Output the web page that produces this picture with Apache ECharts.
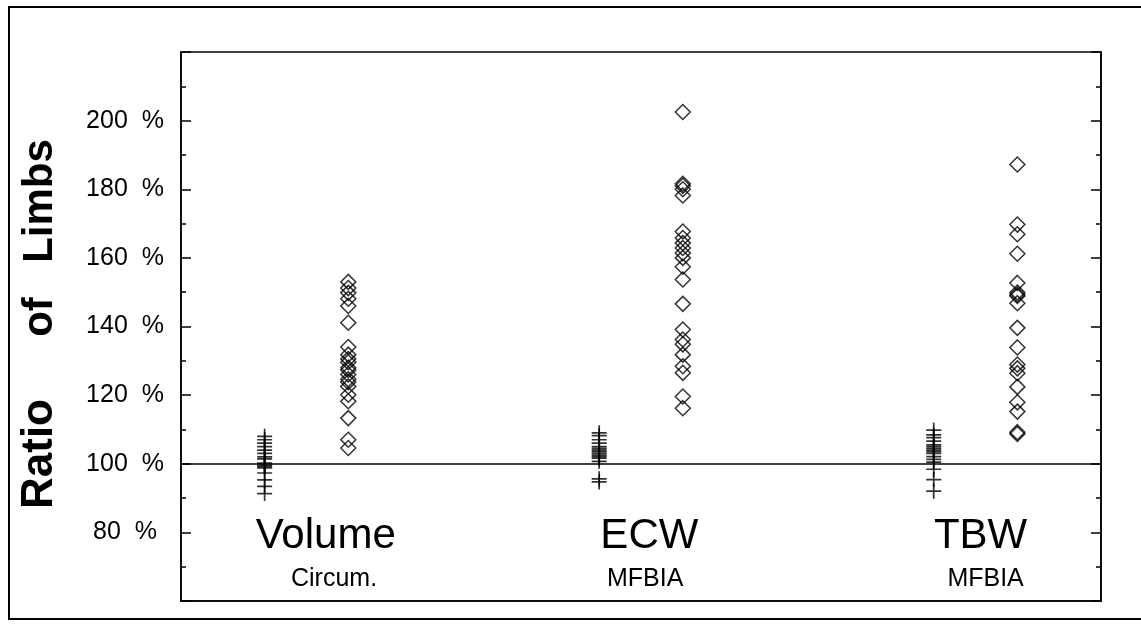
<!DOCTYPE html>
<html>
<head>
<meta charset="utf-8">
<script src="https://cdn.jsdelivr.net/npm/echarts@6/dist/echarts.min.js"></script>
<style>
html,body{margin:0;padding:0;background:#fff;}
#chart{width:1141px;height:626px;}
</style>
</head>
<body>
<div id="chart"></div>
<script>
// ---- data ----
const groupNames = ['Volume', 'ECW', 'TBW'];
const methodNames = ['Circum.', 'MFBIA', 'MFBIA'];
const yTickValues = [80, 100, 120, 140, 160, 180, 200];

// reference side (crosses), values in %
const volumeRef = [108, 107, 106, 105, 104, 103, 102, 101.4, 100.2, 99.6, 99.2, 98.8, 97.3, 95.3, 93.4, 91.3];
const ecwRef    = [109, 108.2, 107, 106, 105, 104.5, 104, 103.5, 103, 102.5, 102, 101.6, 100.7, 95.6, 94.7];
const tbwRef    = [109.8, 108.4, 107.6, 106.6, 105.5, 105, 104.5, 104, 103.5, 103, 102.1, 101.3, 100.5, 98.4, 95.4, 92];

// affected side ratios (diamonds), values in %
const volumeRatio = [153, 151.2, 149.8, 148.1, 146, 141.1, 134, 131.8, 130.5, 129.6, 128, 127.3, 126, 124.6, 123.8, 122.5, 120.1, 118.2, 113.3, 107, 104.6];
const ecwRatio    = [202.5, 181.6, 181, 180, 178.2, 167.7, 165.8, 164.3, 162.9, 161.4, 160, 157.4, 153.7, 146.6, 139.1, 136.2, 134.8, 131.8, 128.4, 126.5, 119.6, 116.2];
const tbwRatio    = [187.2, 169.7, 166.9, 161.2, 152.7, 149.9, 149.3, 148.9, 146.8, 139.6, 133.9, 128.9, 127.8, 126.4, 122.4, 117.9, 115.2, 109.2, 108.7];

// ---- build ----
const refSets = [volumeRef, ecwRef, tbwRef];
const ratioSets = [volumeRatio, ecwRatio, tbwRatio];
const refX = [1, 5, 9];
const ratioX = [2, 6, 10];
const nameAnchor = [[1.73, 78.8], [5.6, 78.8], [9.56, 78.8]];
const subAnchor = [[1.83, 66.3], [5.55, 66.3], [9.62, 66.3]];

const FONT = 'Liberation Sans, Arial, Helvetica, sans-serif';
const plusPath = 'path://M0,50L100,50M50,0L50,100';

const crossData = [];
refSets.forEach((arr, i) => arr.forEach(v => crossData.push([refX[i], v])));
const diamondData = [];
ratioSets.forEach((arr, i) => arr.forEach(v => diamondData.push([ratioX[i], v])));

const yAxisBase = {
  type: 'value', min: 60, max: 220, interval: 20,
  axisLine: {show: true, lineStyle: {color: '#000', width: 1.5}},
  axisTick: {show: true, inside: true, length: 10, lineStyle: {color: '#000', width: 1.5}},
  minorTick: {show: true, splitNumber: 2, length: 5, lineStyle: {color: '#000', width: 1.5}},
  splitLine: {show: false}
};

const textLabel = size => ({
  show: true, position: 'inside', formatter: p => p.name,
  color: '#000', opacity: 1, textBorderWidth: 0, fontSize: size, fontFamily: FONT
});

const chart = echarts.init(document.getElementById('chart'), null, {renderer: 'canvas'});
chart.setOption({
  animation: false,
  backgroundColor: '#fff',
  grid: {left: 181, right: 40, top: 52, bottom: 25, show: true, borderColor: '#000', borderWidth: 1.5},
  xAxis: {
    type: 'value', min: 0, max: 11,
    axisLine: {show: true, lineStyle: {color: '#000', width: 1.5}},
    axisTick: {show: false}, axisLabel: {show: false}, splitLine: {show: false}
  },
  yAxis: [
    Object.assign({}, yAxisBase, {
      position: 'left',
      axisLabel: {
        show: true, margin: 56, align: 'center', color: '#000', fontSize: 25, fontFamily: FONT,
        formatter: v => (yTickValues.indexOf(v) >= 0 ? v + '  %' : '')
      }
    }),
    Object.assign({}, yAxisBase, {position: 'right', axisLabel: {show: false}})
  ],
  series: [
    {
      type: 'scatter', name: 'ref', data: crossData,
      symbol: plusPath, symbolSize: 15,
      itemStyle: {color: 'rgba(0,0,0,0)', borderColor: '#000', borderWidth: 1.7},
      emphasis: {disabled: true},
      markLine: {
        silent: true, symbol: 'none', label: {show: false},
        lineStyle: {color: '#000', width: 1.5, type: 'solid'},
        data: [{yAxis: 100}]
      }
    },
    {
      type: 'scatter', name: 'ratio', data: diamondData,
      symbol: 'diamond', symbolSize: 15,
      itemStyle: {color: 'rgba(0,0,0,0)', borderColor: '#000', borderWidth: 1.5},
      emphasis: {disabled: true}
    },
    {
      type: 'scatter', name: 'groups', symbol: 'circle', symbolSize: 1, silent: true,
      itemStyle: {color: '#fff', opacity: 1},
      data: groupNames.map((n, i) => ({value: nameAnchor[i], name: n})),
      label: textLabel(42)
    },
    {
      type: 'scatter', name: 'methods', symbol: 'circle', symbolSize: 1, silent: true,
      itemStyle: {color: '#fff', opacity: 1},
      data: methodNames.map((n, i) => ({value: subAnchor[i], name: n})),
      label: textLabel(25)
    }
  ],
  graphic: [
    {type: 'rect', shape: {x: 9, y: 7, width: 1140, height: 612}, style: {fill: 'none', stroke: '#000', lineWidth: 2}, silent: true},
    {type: 'text', x: 40, y: 454, rotation: Math.PI / 2, style: {text: 'Ratio', fontSize: 44, fontWeight: 'bold', fontFamily: FONT, fill: '#000', textAlign: 'center', textVerticalAlign: 'middle'}},
    {type: 'text', x: 40, y: 317, rotation: Math.PI / 2, style: {text: 'of', fontSize: 42, fontWeight: 'bold', fontFamily: FONT, fill: '#000', textAlign: 'center', textVerticalAlign: 'middle'}},
    {type: 'text', x: 40, y: 201, rotation: Math.PI / 2, style: {text: 'Limbs', fontSize: 42, fontWeight: 'bold', fontFamily: FONT, fill: '#000', textAlign: 'center', textVerticalAlign: 'middle'}}
  ]
});
</script>
</body>
</html>
